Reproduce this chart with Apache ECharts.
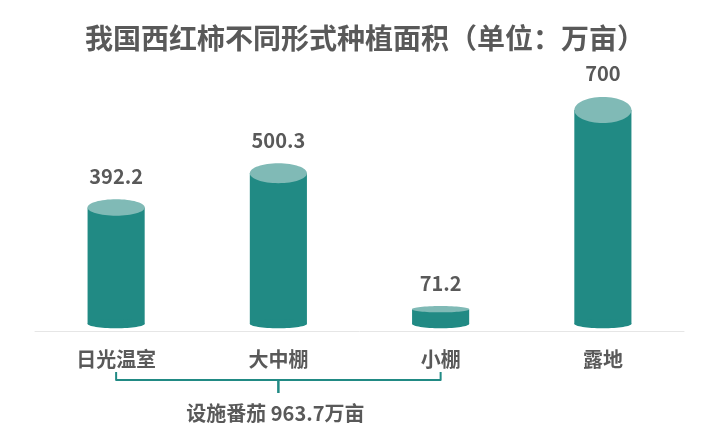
<!DOCTYPE html>
<html><head><meta charset="utf-8">
<script src="https://cdn.jsdelivr.net/npm/echarts@6/dist/echarts.min.js"></script>
<style>html,body{margin:0;padding:0;background:#fff}#c{width:720px;height:445px}</style>
</head><body><div id="c"></div>
<script>
const categories = ['日光温室', '大中棚', '小棚', '露地'];
const values = [392.2, 500.3, 71.2, 700];
const titleText = '我国西红柿不同形式种植面积（单位：万亩）';
const bracketText = '设施番茄 963.7万亩';

const DARK = '#218a84', LIGHT = '#80bab6', TXT = '#595959';
const FONT = '"Noto Sans CJK SC", "Microsoft YaHei", sans-serif';
const chart = echarts.init(document.getElementById('c'));
chart.setOption({
  animation: false,
  title: {text: titleText, left: 80, top: 19,
    textStyle: {fontFamily: FONT, fontSize: 28, fontWeight: 'bold', color: TXT}},
  grid: {left: 35, right: 36, top: 78.3, bottom: 113.3},
  xAxis: {type: 'category', data: categories,
    axisLine: {lineStyle: {color: '#e6e6e6', width: 1}}, axisTick: {show: false},
    axisLabel: {margin: 18, fontFamily: FONT, fontSize: 20, fontWeight: 'bold', color: TXT}},
  yAxis: {type: 'value', min: 0, max: 800, show: false, splitLine: {show: false}},
  series: [{
    type: 'custom',
    data: values.map((v, i) => [i, v]),
    z: 3,
    renderItem(params, api) {
      const top = api.coord([api.value(0), api.value(1)]);
      const base = api.coord([api.value(0), 0]);
      const w = api.size([1, 0])[0] * 0.352;
      const rx = w / 2;
      const h = base[1] - top[1];
      const ry = 2 + 0.05 * h;
      const by = base[1] - 8, bry = 4.5;
      return {type: 'group', children: [
        {type: 'rect', shape: {x: top[0] - rx, y: top[1], width: w, height: by - top[1]}, style: {fill: DARK}},
        {type: 'ellipse', shape: {cx: top[0], cy: by, rx: rx, ry: bry}, style: {fill: DARK}},
        {type: 'ellipse', shape: {cx: top[0], cy: top[1], rx: rx, ry: ry}, style: {fill: LIGHT}},
        {type: 'text', style: {text: String(api.value(1)), x: top[0], y: top[1] - ry - 23,
          align: 'center', verticalAlign: 'middle', fill: TXT,
          font: 'bold 20px ' + FONT}}
      ]};
    }
  }]
});
// bracket under the facility categories
const x0 = chart.convertToPixel({xAxisIndex: 0}, categories[0]);
const x2 = chart.convertToPixel({xAxisIndex: 0}, categories[2]);
const xm = chart.convertToPixel({xAxisIndex: 0}, categories[1]);
const yTop = 372, yLine = 380, yStem = 393;
chart.setOption({graphic: [
  {type: 'polyline', shape: {points: [[x0, yTop], [x0, yLine], [x2, yLine], [x2, yTop]]},
    style: {stroke: DARK, lineWidth: 2, fill: null, lineJoin: 'round'}},
  {type: 'line', shape: {x1: xm, y1: yLine, x2: xm, y2: yStem},
    style: {stroke: DARK, lineWidth: 2.5}},
  {type: 'text', x: xm - 3, y: 413, style: {text: bracketText, align: 'center', verticalAlign: 'middle',
    fill: TXT, font: 'bold 20px ' + FONT}}
]});
</script></body></html>
